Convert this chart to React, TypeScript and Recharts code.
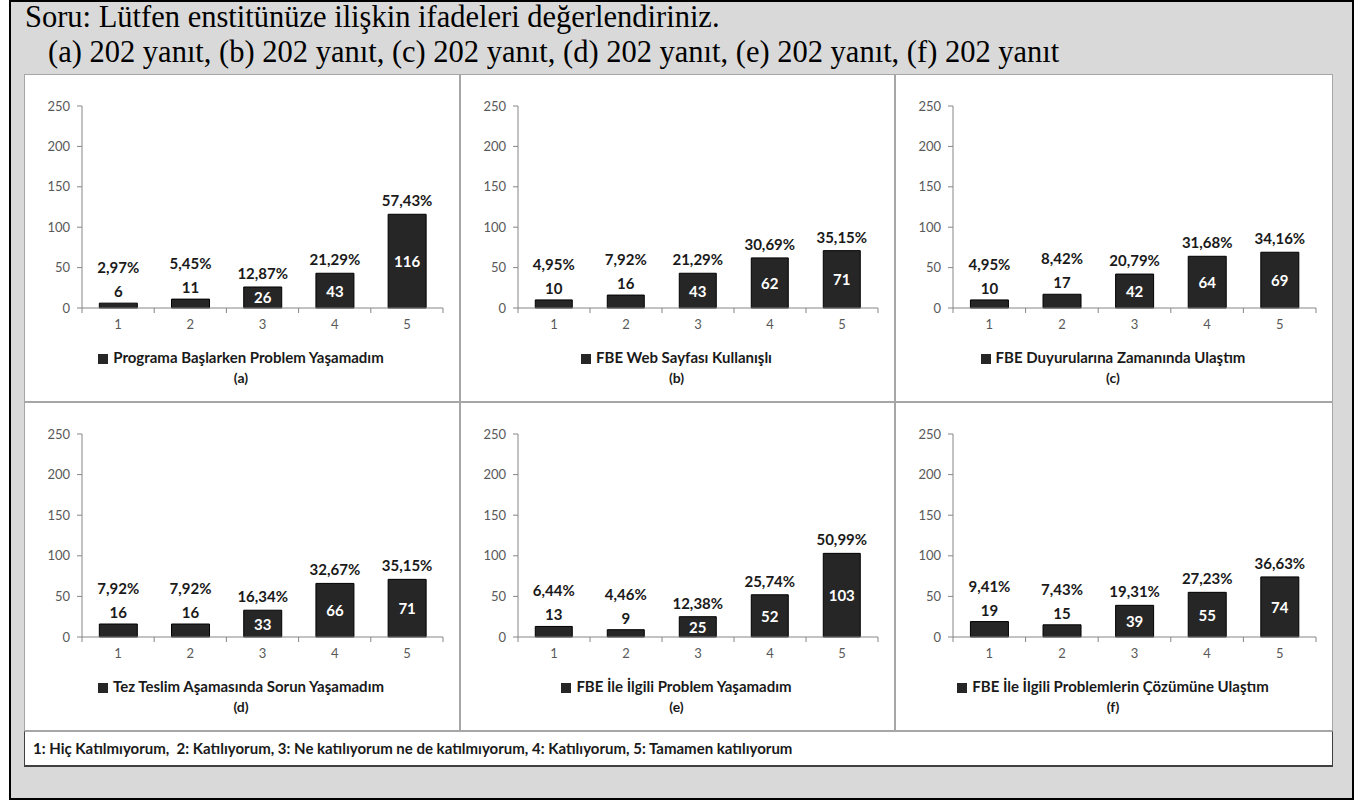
import React from "react";
import { BarChart, Bar, XAxis, YAxis, Legend, LabelList } from "recharts";

// answer scale 1..5
const categories = ["1", "2", "3", "4", "5"];
const yTicks = [0, 50, 100, 150, 200, 250];

const countsA = [6, 11, 26, 43, 116];
const pctA = ["2,97%", "5,45%", "12,87%", "21,29%", "57,43%"];
const countsB = [10, 16, 43, 62, 71];
const pctB = ["4,95%", "7,92%", "21,29%", "30,69%", "35,15%"];
const countsC = [10, 17, 42, 64, 69];
const pctC = ["4,95%", "8,42%", "20,79%", "31,68%", "34,16%"];
const countsD = [16, 16, 33, 66, 71];
const pctD = ["7,92%", "7,92%", "16,34%", "32,67%", "35,15%"];
const countsE = [13, 9, 25, 52, 103];
const pctE = ["6,44%", "4,46%", "12,38%", "25,74%", "50,99%"];
const countsF = [19, 15, 39, 55, 74];
const pctF = ["9,41%", "7,43%", "19,31%", "27,23%", "36,63%"];

const seriesNames = [
  "Programa Başlarken Problem Yaşamadım",
  "FBE Web Sayfası Kullanışlı",
  "FBE Duyurularına Zamanında Ulaştım",
  "Tez Teslim Aşamasında Sorun Yaşamadım",
  "FBE İle İlgili Problem Yaşamadım",
  "FBE İle İlgili Problemlerin Çözümüne Ulaştım",
];
const captions = ["(a)", "(b)", "(c)", "(d)", "(e)", "(f)"];

const FONT = "Lato, 'Open Sans', sans-serif";
const BAR = "#262626";
const AXIS = "#868686";
const SMALL_BAR = 18; // px; shorter bars get their count above the bar

const buildRows = (counts: number[], pcts: string[]) =>
  categories.map((c, i) => ({ cat: c, count: counts[i], pct: pcts[i] }));

const panels = [
  { rows: buildRows(countsA, pctA), x: 24, y: 74, w: 436, h: 328 },
  { rows: buildRows(countsB, pctB), x: 460, y: 74, w: 435, h: 328 },
  { rows: buildRows(countsC, pctC), x: 895, y: 74, w: 438, h: 328 },
  { rows: buildRows(countsD, pctD), x: 24, y: 402, w: 436, h: 329 },
  { rows: buildRows(countsE, pctE), x: 460, y: 402, w: 435, h: 329 },
  { rows: buildRows(countsF, pctF), x: 895, y: 402, w: 438, h: 329 },
];

const M = { top: 31, right: 16, left: 0, bottom: 8 };
const Y_W = 57;
const LEGEND_H = 55;

function CountLabel(p: any) {
  const { x, y, width, height, value } = p;
  const inside = height >= SMALL_BAR;
  return (
    <text
      x={x + width / 2}
      y={inside ? y + height / 2 : y - 12}
      fill={inside ? "#fff" : "#1a1a1a"}
      textAnchor="middle"
      dominantBaseline="central"
      fontSize={15}
      fontWeight={700}
      fontFamily={FONT}
    >
      {value}
    </text>
  );
}

function PctLabel(p: any) {
  const { x, y, width, height, value } = p;
  const small = height < SMALL_BAR;
  return (
    <text
      x={x + width / 2}
      y={small ? y - 36 : y - 14}
      fill="#1a1a1a"
      textAnchor="middle"
      dominantBaseline="central"
      fontSize={15}
      fontWeight={700}
      fontFamily={FONT}
    >
      {value}
    </text>
  );
}

function Panel({ idx }: { idx: number }) {
  const pn = panels[idx];
  const halfStep = (pn.w - 2 - Y_W - M.right) / categories.length / 2;

  const XTick = (p: any) => {
    const { x, y, payload, index } = p;
    const axisY = y - 12;
    return (
      <g>
        <line x1={x + halfStep} x2={x + halfStep} y1={axisY} y2={axisY + 5} stroke={AXIS} />
        {index === 0 && (
          <line x1={x - halfStep} x2={x - halfStep} y1={axisY} y2={axisY + 5} stroke={AXIS} />
        )}
        <text x={x} y={y} dy="0.71em" textAnchor="middle" fontSize={13} fill="#595959" fontFamily={FONT}>
          {payload.value}
        </text>
      </g>
    );
  };

  const legendContent = () => (
    <div
      style={{
        height: LEGEND_H,
        boxSizing: "border-box",
        paddingTop: 9,
        fontFamily: FONT,
        color: "#1a1a1a",
        textAlign: "center",
        paddingLeft: 14,
      }}
    >
      <div style={{ height: 20, fontSize: 15, fontWeight: 700, lineHeight: "20px" }}>
        <span
          style={{ display: "inline-block", width: 10, height: 10, background: BAR, marginRight: 5, verticalAlign: "-1px" }}
        />
        {seriesNames[idx]}
      </div>
      <div style={{ height: 22, fontSize: 14, fontWeight: 700, lineHeight: "22px" }}>{captions[idx]}</div>
    </div>
  );

  return (
    <div
      style={{
        position: "absolute",
        left: pn.x,
        top: pn.y,
        width: pn.w,
        height: pn.h,
        background: "#fff",
        border: "1px solid #a6a6a6",
        boxSizing: "border-box",
      }}
    >
      <BarChart width={pn.w - 2} height={pn.h - 2} data={pn.rows} margin={M} barCategoryGap="24%">
        <XAxis
          dataKey="cat"
          height={30}
          axisLine={{ stroke: AXIS }}
          tickLine={false}
          tickSize={5}
          tickMargin={7}
          tick={XTick}
        />
        <YAxis
          width={Y_W}
          domain={[0, 250]}
          ticks={yTicks}
          axisLine={{ stroke: AXIS }}
          tickLine={{ stroke: AXIS }}
          tickSize={5}
          tickMargin={7}
          tick={{ fontSize: 13, fill: "#595959", fontFamily: FONT }}
        />
        <Legend verticalAlign="bottom" height={LEGEND_H} content={legendContent} />
        <Bar dataKey="count" name={seriesNames[idx]} fill={BAR} stroke="#000" strokeWidth={1} isAnimationActive={false}>
          <LabelList dataKey="count" content={CountLabel} />
          <LabelList dataKey="pct" content={PctLabel} />
        </Bar>
      </BarChart>
    </div>
  );
}

export default function App() {
  return (
    <div style={{ position: "relative", width: 1364, height: 800 }}>
      <style>{`body{margin:0}`}</style>
      <div
        style={{
          position: "absolute",
          left: 9,
          top: 0,
          width: 1345,
          height: 800,
          background: "#d9d9d9",
          border: "2px solid #000",
          boxSizing: "border-box",
        }}
      />
      <div
        style={{
          position: "absolute",
          left: 25,
          top: 0,
          fontFamily: "'Liberation Serif', 'Times New Roman', serif",
          fontSize: 30.5,
          lineHeight: "35px",
          color: "#000",
          whiteSpace: "pre",
        }}
      >
        {"Soru: Lütfen enstitünüze ilişkin ifadeleri değerlendiriniz.\n"}
        <span style={{ paddingLeft: 23 }}>
          (a) 202 yanıt, (b) 202 yanıt, (c) 202 yanıt, (d) 202 yanıt, (e) 202 yanıt, (f) 202 yanıt
        </span>
      </div>
      {panels.map((_, i) => (
        <Panel key={i} idx={i} />
      ))}
      <div
        style={{
          position: "absolute",
          left: 24,
          top: 731,
          width: 1309,
          height: 36,
          background: "#fff",
          borderLeft: "1px solid #404040",
          borderRight: "1px solid #404040",
          borderBottom: "2px solid #404040",
          borderTop: "1px solid #a6a6a6",
          boxSizing: "border-box",
          fontFamily: FONT,
          fontSize: 15,
          fontWeight: 700,
          color: "#1a1a1a",
          lineHeight: "32px",
          paddingLeft: 8,
          whiteSpace: "pre",
        }}
      >
        {"1: Hiç Katılmıyorum,  2: Katılıyorum, 3: Ne katılıyorum ne de katılmıyorum, 4: Katılıyorum, 5: Tamamen katılıyorum"}
      </div>
    </div>
  );
}
